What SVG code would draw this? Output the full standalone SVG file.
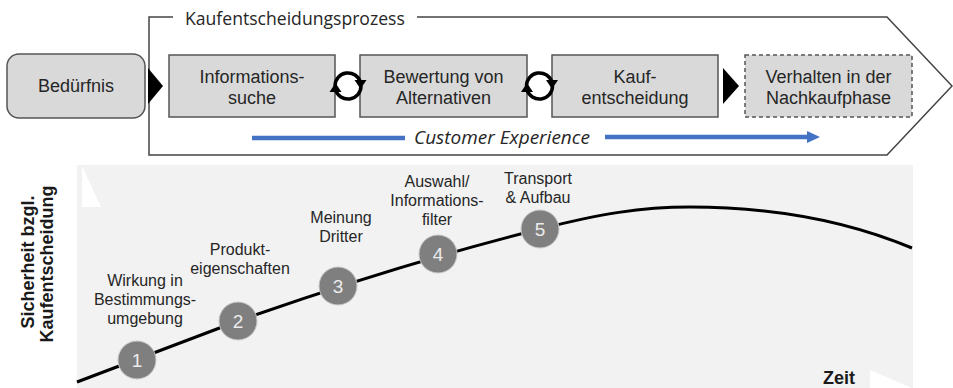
<svg xmlns="http://www.w3.org/2000/svg" width="953" height="388" viewBox="0 0 953 388">
<style>
.box{fill:#d9d9d9;stroke:#555;stroke-width:1.5}
.t{font-family:"Liberation Sans",Arial,sans-serif;font-size:18px;fill:#262626;text-anchor:middle}
.s{font-family:"Liberation Sans",Arial,sans-serif;font-size:16px;fill:#262626;text-anchor:middle}
.b{font-family:"Liberation Sans",Arial,sans-serif;font-size:18px;font-weight:bold;fill:#1a1a1a;text-anchor:middle}
.os{font-family:"Open Sans",sans-serif;fill:#262626}
.cyc{fill:none;stroke:#000;stroke-width:3.5}
.num{fill:#7f7f7f;stroke:#c8c8c8;stroke-width:1}
.nt{font-family:"Liberation Sans",Arial,sans-serif;font-size:19px;fill:#ececec;text-anchor:middle}
</style>
<rect x="0" y="0" width="953" height="388" fill="#fff"/>
<g id="frame">
<path d="M173,17 L149,17 L149,155 L887,155 L952,86 L887,17 L417,17" fill="none" stroke="#444" stroke-width="1.5"/>
<text class="os" x="185" y="25" font-size="17.6">Kaufentscheidungsprozess</text>
</g>
<g id="chart">
<rect x="77" y="165" width="836" height="223" fill="#f2f2f2"/>
<polygon points="82,166 82,207 101,207" fill="#fff"/>
<polygon points="870,370 912,388 870,388" fill="#fff"/>
<text class="b" transform="translate(34,262) rotate(-90)">Sicherheit bzgl.</text>
<text class="b" transform="translate(53,264) rotate(-90)">Kaufentscheidung</text>
<text class="b" x="839" y="384">Zeit</text>
</g>
<g id="beduerfnis">
<rect class="box" x="7" y="54" width="138" height="64" rx="12"/>
<text class="t" x="76" y="92">Bedürfnis</text>
</g>
<g id="informationssuche">
<rect class="box" x="169" y="55" width="166" height="62"/>
<text class="t" x="252" y="83">Informations-</text>
<text class="t" x="252" y="104">suche</text>
</g>
<g id="bewertung">
<rect class="box" x="360" y="55" width="167" height="62"/>
<text class="t" x="443.5" y="83">Bewertung von</text>
<text class="t" x="443.5" y="104">Alternativen</text>
</g>
<g id="kaufentscheidung">
<rect class="box" x="552" y="55" width="166" height="62"/>
<text class="t" x="635" y="83">Kauf-</text>
<text class="t" x="635" y="104">entscheidung</text>
</g>
<g id="nachkauf">
<rect class="box" x="745" y="55" width="167" height="62" stroke-dasharray="4,3"/>
<text class="t" x="828.5" y="83">Verhalten in der</text>
<text class="t" x="828.5" y="104">Nachkaufphase</text>
</g>
<g id="connectors">
<polygon points="148,68 163,86 148,104" fill="#000"/>
<polygon points="723,68 739,86 723,104" fill="#000"/>
<path class="cyc" d="M335,86 A13,13 0 0 1 360.5,82.4"/>
<polygon points="354.5,80 366.5,80 360.5,89" fill="#000"/>
<path class="cyc" d="M361,86 A13,13 0 0 1 335.5,89.6"/>
<polygon points="329.5,92 341.5,92 335.5,83" fill="#000"/>
<path class="cyc" d="M526.5,86 A13,13 0 0 1 552,82.4"/>
<polygon points="546,80 558,80 552,89" fill="#000"/>
<path class="cyc" d="M552.5,86 A13,13 0 0 1 527,89.6"/>
<polygon points="521,92 533,92 527,83" fill="#000"/>
<line x1="252" y1="138" x2="405" y2="138" stroke="#4472c4" stroke-width="4.5"/>
<line x1="605" y1="137" x2="809" y2="137" stroke="#4472c4" stroke-width="4.5"/>
<polygon points="807,131 820,137 807,143" fill="#4472c4"/>
<text class="os" x="414" y="144" font-size="19" font-style="italic">Customer Experience</text>
<path d="M77,382 L238,321 Q400,264 540,229 C600,214 640,207 690,207 C780,207 850,222 912,248" fill="none" stroke="#000" stroke-width="3"/>
</g>
<g id="step1">
<circle class="num" cx="137" cy="360" r="19"/>
<text class="nt" x="137" y="367">1</text>
<text class="s" x="145" y="286">Wirkung in</text>
<text class="s" x="145" y="305">Bestimmungs-</text>
<text class="s" x="145" y="324">umgebung</text>
</g>
<g id="step2">
<circle class="num" cx="238" cy="321" r="19"/>
<text class="nt" x="238" y="328">2</text>
<text class="s" x="240" y="255">Produkt-</text>
<text class="s" x="240" y="274">eigenschaften</text>
</g>
<g id="step3">
<circle class="num" cx="338" cy="286" r="19"/>
<text class="nt" x="338" y="293">3</text>
<text class="s" x="341" y="223">Meinung</text>
<text class="s" x="341" y="242">Dritter</text>
</g>
<g id="step4">
<circle class="num" cx="438" cy="254" r="19"/>
<text class="nt" x="438" y="261">4</text>
<text class="s" x="437" y="187">Auswahl/</text>
<text class="s" x="437" y="206">Informations-</text>
<text class="s" x="437" y="225">filter</text>
</g>
<g id="step5">
<circle class="num" cx="540" cy="229" r="19"/>
<text class="nt" x="540" y="236">5</text>
<text class="s" x="538" y="184">Transport</text>
<text class="s" x="538" y="203">&amp; Aufbau</text>
</g>
</svg>
